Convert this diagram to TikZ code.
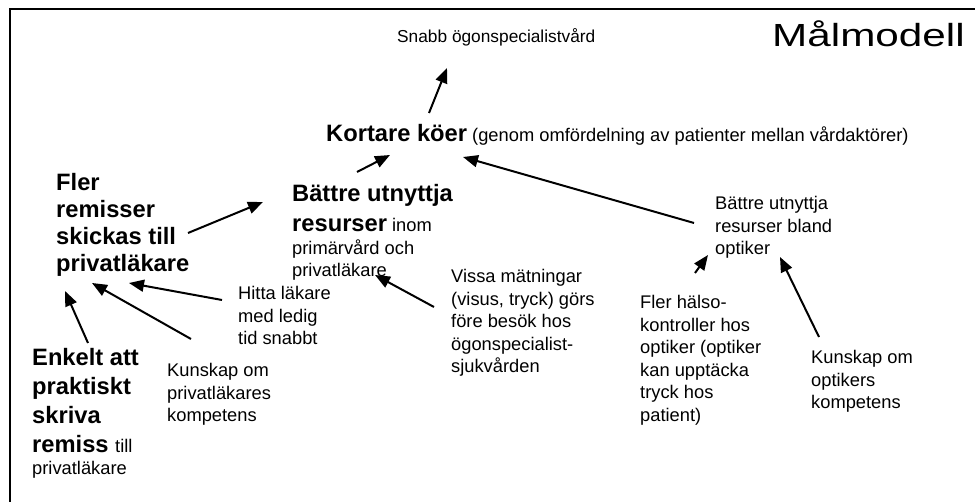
\documentclass[tikz,border=0pt]{standalone}
\usepackage{fontspec}
\usepackage{graphicx}
\setmainfont{Liberation Sans}
\usetikzlibrary{arrows.meta}
\newcommand\bbf[1]{{\fontsize{23.7}{27}\selectfont\bfseries #1}}
\newcommand\smtxt[1]{{\fontsize{18.3}{22.5}\selectfont\mdseries #1}}
\newcommand\vl[1]{\vtop{\halign{##\hfil\cr#1\crcr}}}
\newcommand\gap[1]{\noalign{\vskip #1}}
\begin{document}
\begin{tikzpicture}[x=1pt,y=-1pt,
  txt/.style={anchor=base west,inner sep=0pt,font=\fontsize{18.3}{22.5}\selectfont},
  bigtxt/.style={anchor=base west,inner sep=0pt,font=\fontsize{23.7}{27}\selectfont\bfseries},
  arr/.style={line width=2pt,-{Triangle[length=15pt,width=12pt]}},
  frameline/.style={line width=2pt}]
\lineskiplimit=-100pt
\useasboundingbox (0,0) rectangle (975,502);
% frame
\coordinate (fbl) at (10,502);
\coordinate (ftl) at (10,9);
\coordinate (ftr) at (975,9);
\draw[frameline] (fbl) -- (ftl) -- (ftr);
% texts
\node[txt,font=\fontsize{17.3}{21}\selectfont] (snabb) at (397,43) {Snabb ögonspecialistvård};
\node[txt] (title) at (772,47) {\scalebox{1.32}[1]{\fontsize{32}{36}\selectfont Målmodell}};
\node[txt] (kort) at (326,142) {\bbf{Kortare köer} (genom omfördelning av patienter mellan vårdaktörer)};
\node[txt] (batt) at (292,202) {\vl{\bbf{Bättre utnyttja}\cr\gap{7.5pt}\bbf{resurser} inom\cr primärvård och\cr privatläkare}};
\node[bigtxt] (fler) at (56,191) {\vl{Fler\cr remisser\cr skickas till\cr privatläkare}};
\node[bigtxt,font=\fontsize{23.7}{29}\selectfont\bfseries] (enk) at (32,366) {\vl{Enkelt att\cr praktiskt\cr skriva\cr remiss \smtxt{till}\cr\gap{-7pt}\smtxt{privatläkare}}};
\node[txt] (hitta) at (238,300) {\vl{Hitta läkare\cr med ledig\cr tid snabbt}};
\node[txt] (kunpl) at (167,377) {\vl{Kunskap om\cr privatläkares\cr kompetens}};
\node[txt] (vissa) at (451,283) {\vl{Vissa mätningar\cr (visus, tryck) görs\cr före besök hos\cr ögonspecialist-\cr sjukvården}};
\node[txt] (bopt) at (715,210) {\vl{Bättre utnyttja\cr resurser bland\cr optiker}};
\node[txt] (halso) at (640,309) {\vl{Fler hälso-\cr kontroller hos\cr optiker (optiker\cr kan upptäcka\cr tryck hos\cr patient)}};
\node[txt] (kunopt) at (811,364) {\vl{Kunskap om\cr optikers\cr kompetens}};
% connector ends
\coordinate (kort-o) at (429,113);  \coordinate (snabb-i) at (447,68);
\coordinate (batt-o) at (357,172);  \coordinate (kort-i1) at (390,155);
\coordinate (bopt-o) at (694,223);  \coordinate (kort-i2) at (463,157);
\coordinate (fler-o) at (188,233);  \coordinate (batt-i1) at (263,202);
\coordinate (hitta-o) at (222,300); \coordinate (fler-i1) at (129,283);
\coordinate (kunpl-o) at (191,339); \coordinate (fler-i2) at (92,283);
\coordinate (enk-o) at (88,343);    \coordinate (fler-i3) at (65,291);
\coordinate (vissa-o) at (434,307); \coordinate (batt-i2) at (375,275);
\coordinate (halso-o) at (695,273); \coordinate (bopt-i1) at (708,255);
\coordinate (kunopt-o) at (819,337);\coordinate (bopt-i2) at (780,257);
% connectors
\draw[arr] (kort-o) -- (snabb-i);
\draw[arr] (batt-o) -- (kort-i1);
\draw[arr] (bopt-o) -- (kort-i2);
\draw[arr] (fler-o) -- (batt-i1);
\draw[arr] (hitta-o) -- (fler-i1);
\draw[arr] (kunpl-o) -- (fler-i2);
\draw[arr] (enk-o) -- (fler-i3);
\draw[arr] (vissa-o) -- (batt-i2);
\draw[arr] (halso-o) -- (bopt-i1);
\draw[arr] (kunopt-o) -- (bopt-i2);
\end{tikzpicture}
\end{document}
